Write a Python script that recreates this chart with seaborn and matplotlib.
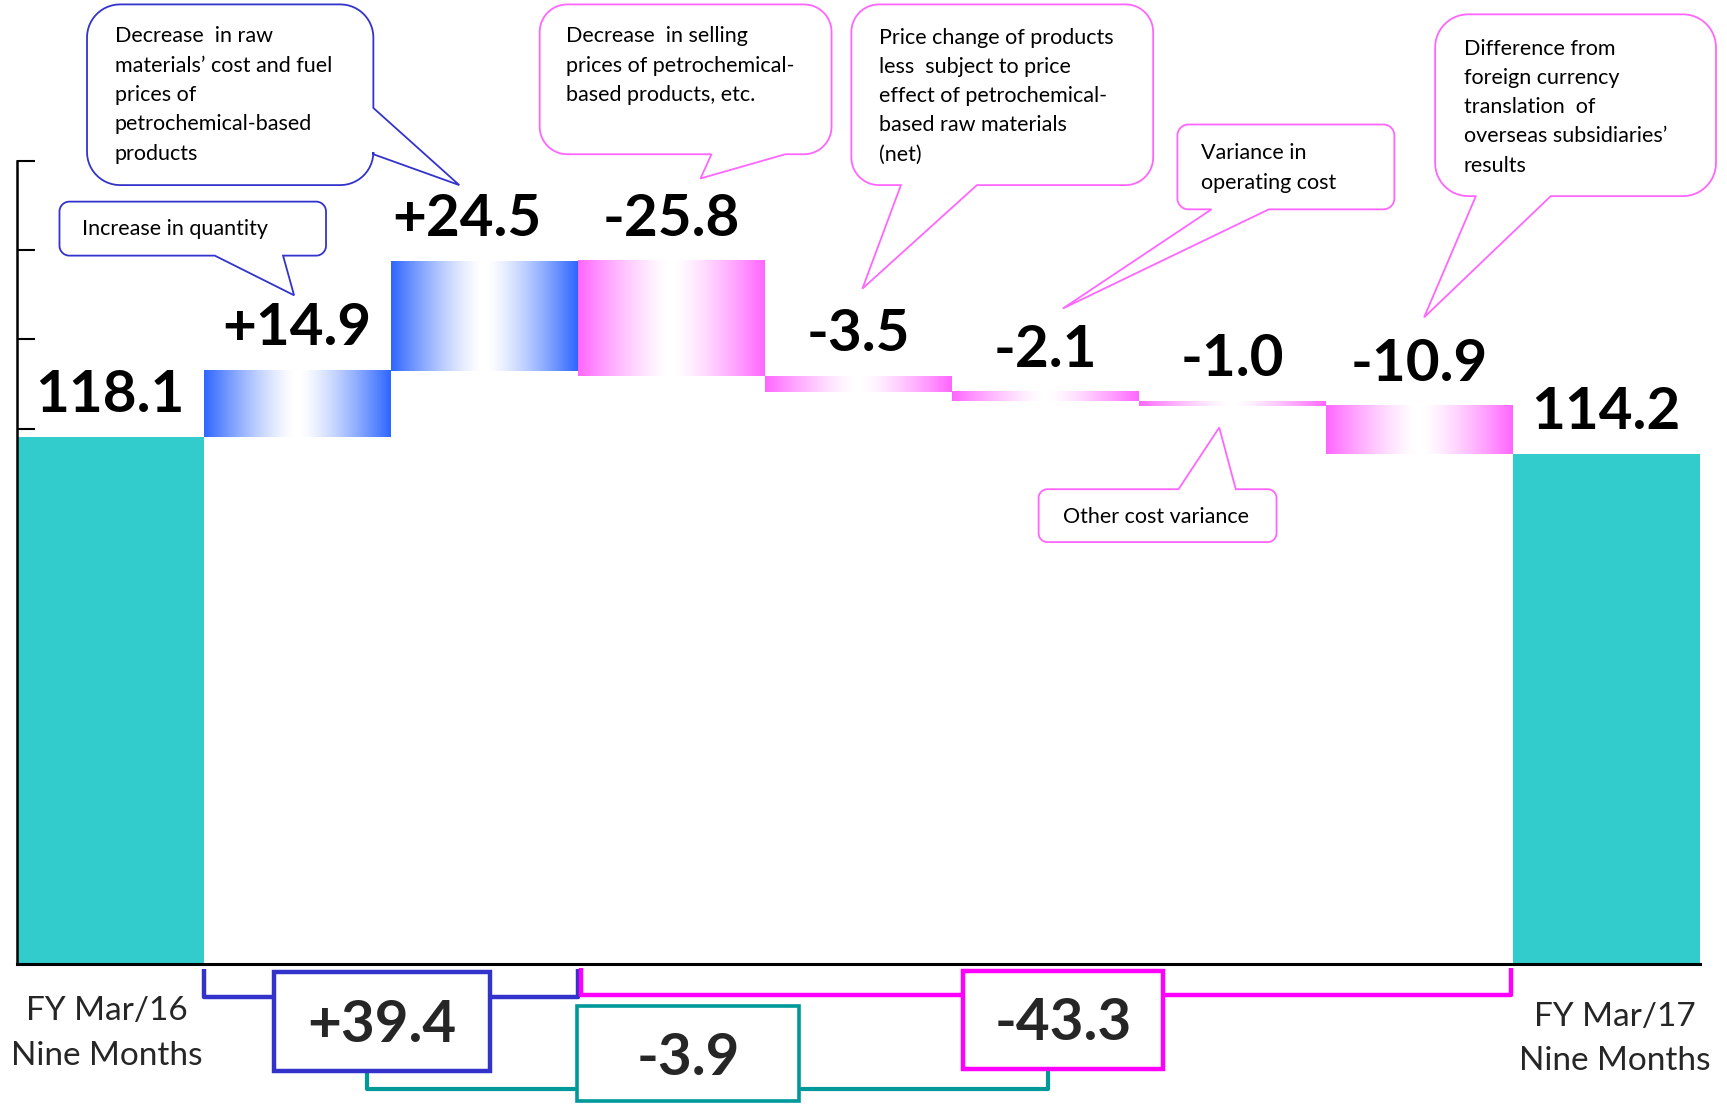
import numpy as np
import pandas as pd
import matplotlib
matplotlib.use("Agg")
import matplotlib.pyplot as plt
from matplotlib.patches import Polygon, Rectangle
from matplotlib.transforms import Affine2D
import seaborn as sns

# ---- data -------------------------------------------------------------
categories = [
    "FY Mar/16\nNine Months",
    "Increase in quantity",
    "Raw materials and fuel prices",
    "Selling prices",
    "Price change (net)",
    "Operating cost",
    "Other cost",
    "Currency translation",
    "FY Mar/17\nNine Months",
]
start_total = 118.1
end_total = 114.2
changes = [14.9, 24.5, -25.8, -3.5, -2.1, -1.0, -10.9]
increase_group = [1, 2]          # category indexes summed into the blue bracket
decrease_group = [3, 4, 5, 6, 7]  # category indexes summed into the magenta bracket
y_ticks = list(range(0, 181, 20))

# ---- colours ----------------------------------------------------------
TEAL = "#33CCCC"
BLUE_BAR = "#2E66FF"
PINK_BAR = "#FF66FF"
BLUE_LINE = "#3333CC"
PINK_LINE = "#FF66FF"
MAGENTA = "#FF00FF"
DARK_TEAL = "#009999"

sns.set_theme(style="white")
plt.rcParams["font.family"] = ["Lato", "DejaVu Sans"]

fig = plt.figure(figsize=(17.27, 11.04), dpi=100)
ax = fig.add_axes([0, 0, 1, 1])

# layout space for call-outs: 1568 x 1002 units, y pointing down
L = Affine2D().scale(1 / 1568, -1 / 1002).translate(0, 1) + fig.transFigure

# ---- total bars (seaborn) ---------------------------------------------
totals = pd.DataFrame({"category": [categories[0], categories[-1]],
                       "value": [start_total, end_total]})
sns.barplot(data=totals, x="category", y="value", order=categories,
            color=TEAL, saturation=1, width=1.0, linewidth=0,
            errorbar=None, ax=ax, zorder=2)


def gradient(edge_hex, n=256):
    edge = np.array(matplotlib.colors.to_rgb(edge_hex))
    u = np.linspace(0, 1, n)
    s = np.clip((np.abs(u - 0.5) * 2 - 0.04) / 0.96, 0, 1) ** 1.3
    rgb = 1 - s[:, None] * (1 - edge[None, :])
    return rgb[None, :, :]


def value_label(x, top, text, dx=0):
    ax.annotate(text, (x, top), xytext=(dx, 30), textcoords="offset points",
                ha="center", va="center", fontsize=42, fontweight="bold",
                color="black", zorder=6)


value_label(0, start_total, f"{start_total:.1f}")
value_label(len(categories) - 1, end_total, f"{end_total:.1f}")

# ---- floating change bars with horizontal colour gradient -------------
running = start_total
for i, c in enumerate(changes, start=1):
    lo, hi = sorted((running, running + c))
    ax.imshow(gradient(BLUE_BAR if c > 0 else PINK_BAR),
              extent=(i - 0.5, i + 0.5, lo, hi), aspect="auto",
              interpolation="bilinear", zorder=2)
    value_label(i, hi, f"{c:+.1f}", dx=-12 if i == 2 else 0)
    running += c

# ---- axes -------------------------------------------------------------
ax.set_xlim(-0.5884, 8.647)
ax.set_ylim(-31.36, 216.05)
ax.set_xticks([])
ax.set_yticks(y_ticks)
ax.set_xlabel("")
ax.set_ylabel("")
for s in ["top", "right"]:
    ax.spines[s].set_visible(False)
ax.spines["left"].set_position(("data", -0.5))
ax.spines["left"].set_bounds(0, 180)
ax.spines["left"].set_linewidth(1.8)
ax.spines["left"].set_color("black")
ax.spines["bottom"].set_position(("data", 0))
ax.spines["bottom"].set_bounds(-0.5, 8.5)
ax.spines["bottom"].set_linewidth(2.2)
ax.spines["bottom"].set_color("black")
ax.spines["bottom"].set_zorder(3)
ax.tick_params(axis="y", left=True, direction="in", length=13, width=1.5,
               color="black", labelleft=False)

# ---- end labels -------------------------------------------------------
ax.text(-0.017, -15.6, categories[0], ha="center", va="center",
        fontsize=24, linespacing=1.62)
ax.text(8.046, -16.8, categories[-1], ha="center", va="center",
        fontsize=24, linespacing=1.62)

# ---- group brackets and subtotal boxes --------------------------------
inc_sum = sum(changes[i - 1] for i in increase_group)
dec_sum = sum(changes[i - 1] for i in decrease_group)
net_sum = inc_sum + dec_sum

x_inc = (increase_group[0] - 0.5, increase_group[-1] + 0.5)
x_dec = (decrease_group[0] - 0.48, decrease_group[-1] + 0.49)

ax.plot([x_inc[0], x_inc[0], x_inc[1], x_inc[1]], [-1.2, -7.4, -7.4, -1.2],
        color=BLUE_LINE, lw=3.2, solid_capstyle="butt", zorder=3, clip_on=False)
ax.plot([x_dec[0], x_dec[0], x_dec[1], x_dec[1]], [-0.9, -6.9, -6.9, -0.9],
        color=MAGENTA, lw=3.2, solid_capstyle="butt", zorder=3, clip_on=False)
ax.plot([1.373, 1.373, 5.018, 5.018], [-23.9, -27.9, -27.9, -23.4],
        color=DARK_TEAL, lw=3.0, solid_capstyle="butt", zorder=3, clip_on=False)


def sum_box(cx, y_top, y_bot, width, color, value, lw, dy=0.0):
    ax.add_patch(Rectangle((cx - width / 2, y_bot), width, y_top - y_bot,
                           facecolor="white", edgecolor=color, lw=lw,
                           zorder=4, clip_on=False))
    ax.text(cx, (y_top + y_bot) / 2 + dy, f"{value:+.1f}", ha="center",
            va="center", fontsize=42, fontweight="bold", zorder=5)


sum_box(1.455, -1.73, -23.95, 1.154, BLUE_LINE, inc_sum, 3.2, dy=-1.0)
sum_box(5.095, -1.48, -23.46, 1.072, MAGENTA, dec_sum, 3.2, dy=-0.8)
sum_box(3.09, -9.38, -30.6, 1.184, DARK_TEAL, net_sum, 2.6, dy=-1.2)


# ---- speech-bubble call-outs ------------------------------------------
def bubble(x0, y0, x1, y1, r, side, base, tip):
    def arc(cx, cy, a0, a1):
        t = np.radians(np.linspace(a0, a1, 14))
        return list(zip(cx + r * np.cos(t), cy + r * np.sin(t)))

    pts = arc(x1 - r, y0 + r, -90, 0)
    if side == "right":
        pts += [(x1, base[0]), tip, (x1, base[1])]
    pts += arc(x1 - r, y1 - r, 0, 90)
    if side == "bottom":
        pts += [(base[1], y1), tip, (base[0], y1)]
    pts += arc(x0 + r, y1 - r, 90, 180)
    pts += arc(x0 + r, y0 + r, 180, 270)
    if side == "top":
        pts += [(base[0], y0), tip, (base[1], y0)]
    return pts


callouts = [
    ("Decrease  in raw\nmaterials’ cost and fuel\nprices of\npetrochemical-based\nproducts",
     (79, 4, 339, 168), 30, "right", (98, 140), (417, 168), BLUE_LINE, (104, 24)),
    ("Increase in quantity",
     (54, 183, 296, 232), 9, "bottom", (195, 257), (267, 268), BLUE_LINE, (74, 199)),
    ("Decrease  in selling\nprices of petrochemical-\nbased products, etc.",
     (490, 4, 755, 140), 25, "bottom", (646, 713), (636, 162), PINK_LINE, (514, 24)),
    ("Price change of products\nless  subject to price\neffect of petrochemical-\nbased raw materials\n(net)",
     (773, 4, 1047, 168), 25, "bottom", (818, 887), (783, 262), PINK_LINE, (798, 25)),
    ("Variance in\noperating cost",
     (1069, 113, 1266, 190), 10, "bottom", (1100, 1152), (965, 280), PINK_LINE, (1090, 130)),
    ("Other cost variance",
     (943, 444, 1159, 492), 8, "top", (1070, 1122), (1107, 388), PINK_LINE, (965, 460)),
    ("Difference from\nforeign currency\ntranslation  of\noverseas subsidiaries’\nresults",
     (1303, 13, 1558, 178), 30, "bottom", (1340, 1408), (1293, 288), PINK_LINE, (1329, 35)),
]

for text, (x0, y0, x1, y1), r, side, base, tip, color, (tx, ty) in callouts:
    poly = Polygon(bubble(x0, y0, x1, y1, r, side, base, tip), closed=True,
                   transform=L, facecolor="white", edgecolor=color, lw=1.3,
                   zorder=5, clip_on=False)
    ax.add_patch(poly)
    ax.text(tx, ty, text, transform=L, ha="left", va="top", fontsize=15.5,
            linespacing=1.58, color="black", zorder=6)

fig.savefig("out.png", dpi=100, facecolor="white")
